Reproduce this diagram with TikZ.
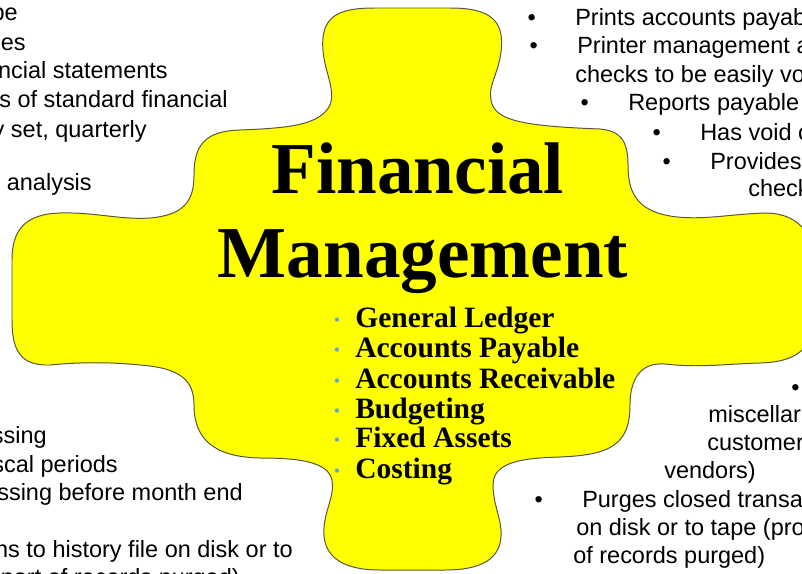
\documentclass[tikz,border=0pt]{standalone}
\usepackage{fontspec}
\setmainfont{Liberation Serif}
\setsansfont{Liberation Sans}
\usepackage{tikz}

\definecolor{pieceyellow}{RGB}{255,255,0}
\definecolor{pieceedge}{RGB}{85,85,65}
\definecolor{dotblue}{RGB}{80,170,230}

\newcommand{\sidebullet}{\llap{\textbullet\hspace{28pt}}}
\newcommand{\bluedot}{\llap{\raisebox{3.2pt}{\textcolor{dotblue}{\fontsize{7}{7}\selectfont$\bullet$}}\hspace{11pt}}}

\begin{document}
\begin{tikzpicture}[x=0.025cm, y=-0.025cm]
\tikzstyle{sidetext}=[font=\sffamily\fontsize{16.7}{20}\selectfont, inner sep=0pt]
\tikzstyle{headline}=[font=\bfseries\fontsize{52}{60}\selectfont, inner sep=0pt, anchor=base]
\tikzstyle{listitem}=[font=\bfseries\fontsize{21}{24}\selectfont, inner sep=0pt, anchor=base west]
\tikzstyle{piece}=[fill=pieceyellow, draw=pieceedge, line width=0.7pt]

\useasboundingbox (0,0) rectangle (802,573);
\clip (0,0) rectangle (802,573);

% the puzzle piece
\draw [piece] (323,50) .. controls (320,15) and (340,8) .. (375,8)
  -- (450,8) .. controls (490,8) and (505,20) .. (501,52)
  .. controls (498,75) and (488,85) .. (491,100)
  .. controls (494,120) and (520,126) .. (600,129)
  .. controls (620,131) and (628,140) .. (628,165)
  .. controls (628,190) and (635,210) .. (670,216)
  .. controls (700,221) and (730,214) .. (765,213)
  .. controls (790,213) and (812,225) .. (814,260)
  -- (814,320) .. controls (812,350) and (795,362) .. (760,363)
  .. controls (725,364) and (700,368) .. (665,364)
  .. controls (640,362) and (630,380) .. (630,405)
  .. controls (630,445) and (610,455) .. (560,457)
  .. controls (530,458) and (500,460) .. (494,478)
  .. controls (490,495) and (500,515) .. (501,530)
  .. controls (503,560) and (480,570) .. (445,570)
  -- (380,570) .. controls (340,570) and (322,555) .. (324,528)
  .. controls (325,510) and (335,495) .. (332,480)
  .. controls (328,462) and (300,458) .. (260,458)
  .. controls (215,457) and (194,440) .. (194,405)
  .. controls (194,380) and (180,368) .. (140,365)
  .. controls (110,362) and (80,362) .. (50,365)
  .. controls (20,366) and (12,350) .. (12,320)
  -- (12,260) .. controls (12,230) and (25,214) .. (60,213)
  .. controls (95,212) and (120,220) .. (150,218)
  .. controls (185,215) and (194,200) .. (194,175)
  .. controls (194,145) and (205,131) .. (240,130)
  .. controls (290,128) and (320,125) .. (330,105)
  .. controls (336,90) and (324,70) .. cycle;

\node (F) [headline] at (418,193) {Financial};
\node (M) [headline] at (423,277) {Management};

\node (GL) [listitem] at (355,327) {\bluedot General Ledger};
\node (AP) [listitem] at (355,357) {\bluedot Accounts Payable};
\node (AR) [listitem] at (355,388) {\bluedot Accounts Receivable};
\node (BU) [listitem] at (355,418) {\bluedot Budgeting};
\node (FA) [listitem] at (355,447) {\bluedot Fixed Assets};
\node (CO) [listitem] at (355,478) {\bluedot Costing};

% top left
\node (TL1) [sidetext, anchor=base east] at (18,20) {be};
\node (TL2) [sidetext, anchor=base east] at (26,50) {ces};
\node (TL3) [sidetext, anchor=base east] at (168,78) {ncial statements};
\node (TL4) [sidetext, anchor=base east] at (228,107) {s of standard financial};
\node (TL5) [sidetext, anchor=base east] at (147,137) {y set, quarterly};
\node (TL6) [sidetext, anchor=base east] at (92,190) {analysis};

% bottom left
\node (BL1) [sidetext, anchor=base east] at (47,443) {ssing};
\node (BL2) [sidetext, anchor=base east] at (118,472) {scal periods};
\node (BL3) [sidetext, anchor=base east] at (243,500) {ssing before month end};
\node (BL4) [sidetext, anchor=base east] at (293,557) {ns to history file on disk or to};
\node (BL5) [sidetext, anchor=base east] at (240,585) {port of records purged)};

% top right
\node (TR1) [sidetext, anchor=base west] at (575,25) {\sidebullet Prints accounts payab};
\node (TR2) [sidetext, anchor=base west] at (577,53) {\sidebullet Printer management a};
\node (TR3) [sidetext, anchor=base west] at (575,82) {checks to be easily vo};
\node (TR4) [sidetext, anchor=base west] at (628,110) {\sidebullet Reports payable};
\node (TR5) [sidetext, anchor=base west] at (700,140) {\sidebullet Has void c};
\node (TR6) [sidetext, anchor=base west] at (710,169) {\sidebullet Provides};
\node (TR7) [sidetext, anchor=base west] at (748,196) {check};

% bottom right
\node (BR1) [sidetext, anchor=base west] at (791,395) {\textbullet};
\node (BR2) [sidetext, anchor=base west] at (708,422) {miscellar};
\node (BR3) [sidetext, anchor=base west] at (707,450) {customer};
\node (BR4) [sidetext, anchor=base west] at (664,478) {vendors)};
\node (BR5) [sidetext, anchor=base west] at (582,507) {\sidebullet Purges closed transa};
\node (BR6) [sidetext, anchor=base west] at (576,535) {on disk or to tape (pro};
\node (BR7) [sidetext, anchor=base west] at (573,563) {of records purged)};

\end{tikzpicture}
\end{document}
